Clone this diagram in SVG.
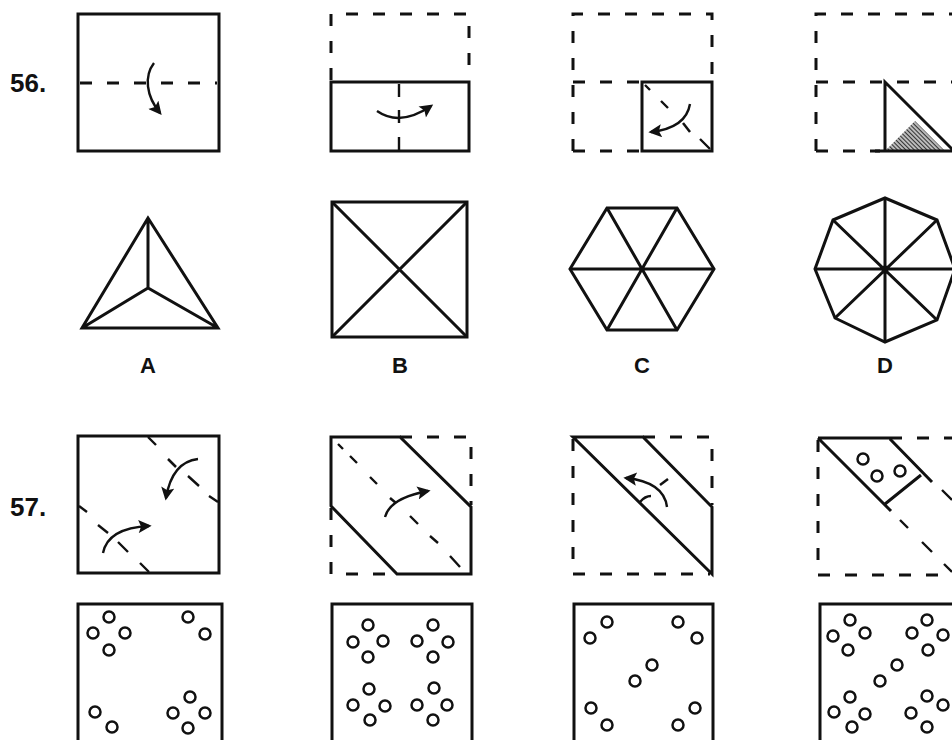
<svg xmlns="http://www.w3.org/2000/svg" width="952" height="740" viewBox="0 0 952 740">
<style>
.s{fill:none;stroke:#111;stroke-width:3;stroke-linejoin:miter}
.d{fill:none;stroke:#111;stroke-width:3;stroke-dasharray:12 15}
.t{fill:none;stroke:#111;stroke-width:2.4}
.a{fill:none;stroke:#111;stroke-width:2.4;marker-end:url(#ah)}
.c{fill:none;stroke:#111;stroke-width:2.5}
.num{font-family:"Liberation Sans",Arial,sans-serif;font-weight:bold;font-size:26px;fill:#111}
.lab{font-family:"Liberation Sans",Arial,sans-serif;font-weight:bold;font-size:22px;fill:#111;text-anchor:middle}
</style>
<defs>
<marker id="ah" viewBox="0 0 10 10" refX="8" refY="5" markerWidth="6" markerHeight="5.5" orient="auto" markerUnits="strokeWidth">
<path d="M0,0 L10,5 L0,10 L2,5 z" fill="#111"/>
</marker>
<pattern id="hatch" patternUnits="userSpaceOnUse" width="3" height="3" patternTransform="rotate(-45)">
<rect width="3" height="3" fill="#bbb"/>
<line x1="0" y1="0" x2="0" y2="3" stroke="#222" stroke-width="1.8"/>
</pattern>
</defs>

<text class="num" x="10" y="92">56.</text>
<text class="num" x="10" y="516">57.</text>

<g id="q56-fig1">
<rect class="s" x="78" y="14" width="141" height="137"/>
<line class="d" x1="80" y1="83" x2="217" y2="83"/>
<path class="a" d="M154,63 C144,76 146,96 160,113"/>
</g>

<g id="q56-fig2">
<path class="d" d="M331,80 V14 H469 V80"/>
<rect class="s" x="331" y="82" width="138" height="69"/>
<path class="t" d="M399,84 V97 M399,110 V123 M399,137 V150"/>
<path class="a" d="M377,111 Q400,127 431,106"/>
</g>

<g id="q56-fig3">
<path class="d" d="M573,151 V14 H712 V80"/>
<line class="d" x1="573" y1="82" x2="640" y2="82"/>
<line class="d" x1="573" y1="151" x2="640" y2="151"/>
<rect class="s" x="642" y="82" width="70" height="69"/>
<path class="t" d="M645,85 L650,90 M661,101 L668,108 M700,139 L710,149"/>
<path class="a" d="M690,104 Q686,128 651,132"/>
<line class="c" x1="683" y1="123" x2="690" y2="132"/>
</g>

<g id="q56-fig4">
<path class="d" d="M816,151 V14 H952"/>
<line class="d" x1="816" y1="82" x2="952" y2="82"/>
<line class="d" x1="816" y1="151" x2="880" y2="151"/>
<polygon points="886,150 915,121 944,150" fill="url(#hatch)"/>
<path class="s" d="M875,151 H952 M885,151 V82 L955,152"/>
</g>

<g id="optA">
<path class="s" d="M148,218 L82,328 H218 Z M148,218 V288 M82,328 L148,288 L218,328"/>
<text class="lab" x="148" y="373">A</text>
</g>

<g id="optB">
<rect class="s" x="332" y="202" width="135" height="135"/>
<path class="s" d="M332,202 L467,337 M467,202 L332,337"/>
<text class="lab" x="400" y="373">B</text>
</g>

<g id="optC">
<polygon class="s" points="570,269 607,208 677,208 714,269 677,330 607,330"/>
<path class="s" d="M570,269 H714 M607,208 L677,330 M677,208 L607,330"/>
<text class="lab" x="642" y="373">C</text>
</g>

<g id="optD">
<polygon class="s" points="885,198 937,220 955,269 937,320 885,342 835,318 815,269 833,220"/>
<path class="s" d="M885,198 V342 M815,269 H955 M833,220 L937,320 M937,220 L835,318"/>
<circle cx="885" cy="269" r="3.5" fill="#111"/>
<text class="lab" x="885" y="373">D</text>
</g>

<g id="q57-fig1">
<rect class="s" x="78" y="436" width="141" height="137"/>
<path class="t" d="M148,437 L156,445 M188,476 L199,486 M209,496 L218,502"/>
<path class="t" d="M79,506 L87,512 M118,542 L128,552 M140,563 L149,572"/>
<path class="a" d="M198,459 Q172,462 166,498"/>
<line class="c" x1="168" y1="459" x2="176" y2="467"/>
<path class="a" d="M103,553 Q108,528 149,526"/>
<line class="c" x1="98" y1="525" x2="108" y2="533"/>
</g>

<g id="q57-fig2">
<path class="d" d="M400,437 H471 V505"/>
<path class="d" d="M331,508 V574 H395"/>
<path class="s" d="M331,437 H400 L471,507 V574 H397 L331,506 Z"/>
<path class="t" d="M338,444 L343,449 M350,456 L357,463 M370,477 L377,484 M410,516 L418,524 M430,536 L438,543 M450,556 L460,567"/>
<path class="a" d="M385,517 Q390,498 428,491"/>
<line class="c" x1="390" y1="498" x2="396" y2="503"/>
</g>

<g id="q57-fig3">
<path class="d" d="M643,437 H712 V505"/>
<path class="d" d="M573,439 V574 H710"/>
<path class="s" d="M573,437 H643 L712,507 V574 Z"/>
<path class="a" d="M667,507 Q664,482 626,478"/>
<line class="c" x1="660" y1="485" x2="668" y2="479"/>
<path class="c" d="M640,502 Q645,496 651,496"/>
</g>

<g id="q57-fig4">
<path class="d" d="M890,438 H952"/>
<path class="d" d="M818,440 V575 H952"/>
<path class="s" d="M818,438 H890 M818,438 L891,511 M890,439 L932,482 M885,504 L921,475"/>
<path class="t" d="M900,520 L908,528 M922,542 L932,552 M944,564 L952,572 M942,490 L952,500"/>
<circle class="c" cx="863" cy="459" r="5.5"/>
<circle class="c" cx="877" cy="476" r="5.5"/>
<circle class="c" cx="900" cy="471" r="5.5"/>
</g>

<g id="q57-optA">
<path class="s" d="M78,742 V604 H222 V742"/>
<g class="c">
<circle cx="109" cy="617" r="5.5"/><circle cx="93" cy="633" r="5.5"/><circle cx="125" cy="633" r="5.5"/><circle cx="109" cy="650" r="5.5"/>
<circle cx="188" cy="617" r="5.5"/><circle cx="205" cy="634" r="5.5"/>
<circle cx="95" cy="712" r="5.5"/><circle cx="112" cy="727" r="5.5"/>
<circle cx="190" cy="697" r="5.5"/><circle cx="173" cy="713" r="5.5"/><circle cx="205" cy="713" r="5.5"/><circle cx="188" cy="728" r="5.5"/>
</g>
</g>

<g id="q57-optB">
<path class="s" d="M332,742 V604 H472 V742"/>
<g class="c">
<circle cx="368" cy="625" r="5.5"/><circle cx="353" cy="642" r="5.5"/><circle cx="383" cy="641" r="5.5"/><circle cx="368" cy="657" r="5.5"/>
<circle cx="433" cy="625" r="5.5"/><circle cx="417" cy="641" r="5.5"/><circle cx="448" cy="642" r="5.5"/><circle cx="433" cy="657" r="5.5"/>
<circle cx="369" cy="689" r="5.5"/><circle cx="353" cy="705" r="5.5"/><circle cx="385" cy="706" r="5.5"/><circle cx="370" cy="720" r="5.5"/>
<circle cx="434" cy="688" r="5.5"/><circle cx="417" cy="705" r="5.5"/><circle cx="447" cy="705" r="5.5"/><circle cx="433" cy="720" r="5.5"/>
</g>
</g>

<g id="q57-optC">
<path class="s" d="M574,742 V604 H713 V742"/>
<g class="c">
<circle cx="607" cy="622" r="5.5"/><circle cx="590" cy="638" r="5.5"/>
<circle cx="678" cy="622" r="5.5"/><circle cx="697" cy="638" r="5.5"/>
<circle cx="652" cy="665" r="5.5"/><circle cx="635" cy="681" r="5.5"/>
<circle cx="591" cy="708" r="5.5"/><circle cx="607" cy="725" r="5.5"/>
<circle cx="695" cy="708" r="5.5"/><circle cx="678" cy="725" r="5.5"/>
</g>
</g>

<g id="q57-optD">
<path class="s" d="M820,742 V604 H955"/>
<g class="c">
<circle cx="850" cy="620" r="5.5"/><circle cx="833" cy="636" r="5.5"/><circle cx="865" cy="633" r="5.5"/><circle cx="848" cy="650" r="5.5"/>
<circle cx="927" cy="620" r="5.5"/><circle cx="912" cy="633" r="5.5"/><circle cx="943" cy="635" r="5.5"/><circle cx="928" cy="650" r="5.5"/>
<circle cx="897" cy="665" r="5.5"/><circle cx="880" cy="681" r="5.5"/>
<circle cx="850" cy="697" r="5.5"/><circle cx="834" cy="712" r="5.5"/><circle cx="865" cy="714" r="5.5"/><circle cx="852" cy="727" r="5.5"/>
<circle cx="927" cy="696" r="5.5"/><circle cx="911" cy="713" r="5.5"/><circle cx="943" cy="705" r="5.5"/><circle cx="927" cy="727" r="5.5"/>
</g>
</g>
</svg>
